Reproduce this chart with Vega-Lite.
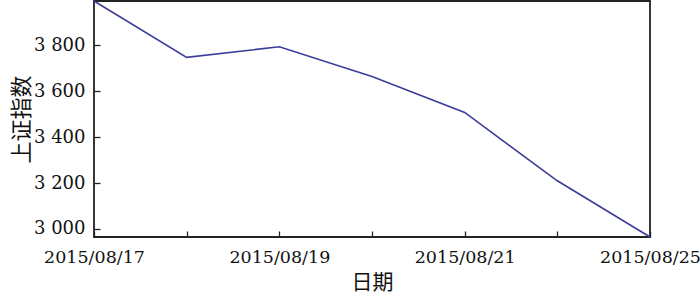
{
  "$schema": "https://vega.github.io/schema/vega-lite/v6.json",
  "autosize": "none",
  "width": 556,
  "height": 236,
  "padding": {"left": 94, "top": 1, "right": 50, "bottom": 57},
  "background": "white",
  "config": {
    "view": {"stroke": "#222", "strokeWidth": 1.8},
    "axis": {
      "labelColor": "#111",
      "titleColor": "#111",
      "tickColor": "#222",
      "grid": false,
      "titleFontWeight": "normal"
    }
  },
  "data": {
    "values": [
      {"date": "2015/08/17", "index": 3993.67},
      {"date": "2015/08/18", "index": 3748.16},
      {"date": "2015/08/19", "index": 3794.11},
      {"date": "2015/08/20", "index": 3664.29},
      {"date": "2015/08/21", "index": 3507.74},
      {"date": "2015/08/24", "index": 3209.91},
      {"date": "2015/08/25", "index": 2964.97}
    ]
  },
  "mark": {"type": "line", "color": "#3a3e98", "strokeWidth": 1.6},
  "encoding": {
    "x": {
      "field": "date",
      "type": "ordinal",
      "sort": null,
      "scale": {"type": "point", "padding": 0},
      "axis": {
        "title": "日期",
        "domain": false,
        "offset": -6,
        "labelFont": "DejaVu Serif",
        "labelFontSize": 17.5,
        "titleFont": "Noto Sans CJK SC",
        "titleFontSize": 21,
        "labelAngle": 0,
        "ticks": true,
        "tickSize": 6,
        "tickWidth": 1.3,
        "labelPadding": 11,
        "titlePadding": 6,
        "labelOverlap": false,
        "labelExpr": "indexof(['2015/08/17','2015/08/19','2015/08/21','2015/08/25'], datum.value) >= 0 ? datum.label : ''"
      }
    },
    "y": {
      "field": "index",
      "type": "quantitative",
      "scale": {"domain": [2964.97, 3993.67], "nice": false, "zero": false},
      "axis": {
        "title": "上证指数",
        "domain": false,
        "offset": -6,
        "labelFont": "DejaVu Serif",
        "labelFontSize": 18,
        "titleFont": "Noto Sans CJK SC",
        "titleFontSize": 22,
        "values": [3000, 3200, 3400, 3600, 3800],
        "ticks": true,
        "tickSize": 6,
        "tickWidth": 1.3,
        "labelPadding": 9,
        "titlePadding": 0,
        "labelExpr": "replace(format(datum.value, ','), ',', ' ')"
      }
    }
  }
}
